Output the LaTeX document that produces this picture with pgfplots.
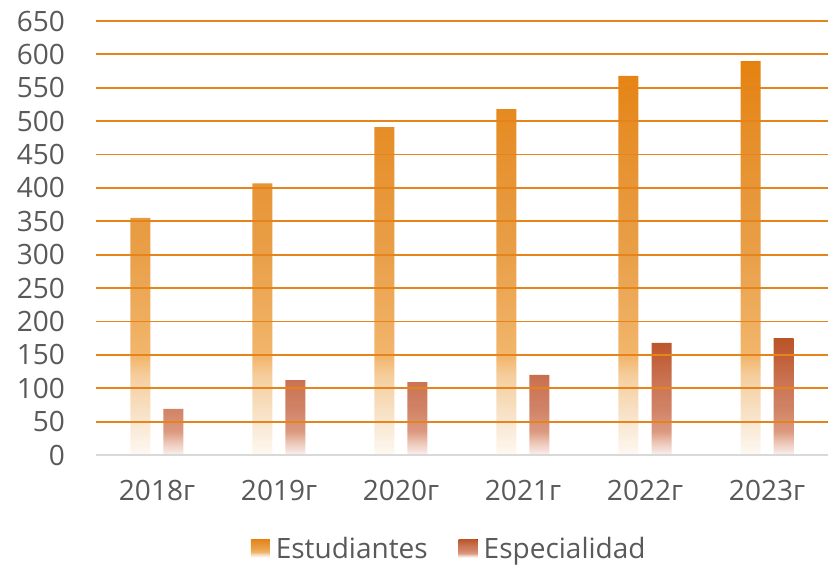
\documentclass[border=0pt]{standalone}
\usepackage{pgfplots}
\pgfplotsset{compat=1.18}
\usepackage{fontspec}
\setmainfont{Open Sans}
\definecolor{txt}{HTML}{595959}
\definecolor{grd}{HTML}{E5841A}
\definecolor{baseln}{HTML}{D9D9D9}
\definecolor{est0}{HTML}{FEF9F3}
\definecolor{estA}{HTML}{F8E3C9}
\definecolor{estB}{HTML}{F5CE9E}
\definecolor{estB2}{HTML}{F2B66C}
\definecolor{estC}{HTML}{E9A04A}
\definecolor{estC2}{HTML}{E68F2A}
\definecolor{estD}{HTML}{E5820F}
\definecolor{esp0}{HTML}{F9F1EE}
\definecolor{espA}{HTML}{EDC9BB}
\definecolor{espB}{HTML}{DC9A80}
\definecolor{espB2}{HTML}{D08266}
\definecolor{espC}{HTML}{CB7656}
\definecolor{espC2}{HTML}{C15F37}
\definecolor{espD}{HTML}{BA5429}
\pgfdeclareverticalshading{estshade}{100bp}{color(0bp)=(est0); color(25bp)=(est0); color(30bp)=(estA); color(35bp)=(estB); color(37.5bp)=(estB2); color(50bp)=(estC); color(65bp)=(estC2); color(75bp)=(estD); color(100bp)=(estD)}
\pgfdeclareverticalshading{espshade}{100bp}{color(0bp)=(esp0); color(25bp)=(esp0); color(30bp)=(espA); color(35bp)=(espB); color(45bp)=(espB2); color(55bp)=(espC); color(67.5bp)=(espC2); color(75bp)=(espD); color(100bp)=(espD)}
\begin{document}
\begin{tikzpicture}
\begin{axis}[
  scale only axis,
  width=732bp, height=434bp,
  xmin=-0.5, xmax=5.5,
  ymin=0, ymax=650,
  ytick={0,50,...,650},
  xtick=data,
  xticklabels={2018г,2019г,2020г,2021г,2022г,2023г},
  ybar=13bp, bar width=20bp,
  axis on top,
  axis line style={draw=none},
  major tick length=0pt,
  ymajorgrids,
  grid style={draw=grd, line width=1.8bp},
  extra y ticks={0},
  extra y tick labels={},
  extra y tick style={grid style={draw=baseln, line width=1.4bp}},
  /pgf/number format/assume math mode=true,
  tick label style={font=\fontsize{28bp}{33bp}\selectfont, text=txt, inner sep=0pt},
  yticklabel style={anchor=east, xshift=-31bp},
  xticklabel style={anchor=north, yshift=-25bp},
  legend columns=2,
  legend style={draw=none, fill=none, font=\fontsize{28bp}{33bp}\selectfont, text=txt,
    at={(0.4825,-0.2166)}, anchor=center,
    /tikz/every even column/.append style={column sep=29bp}},
  legend image code/.code={\fill[#1] (0bp,-8bp) rectangle (19bp,10bp); \path (0bp,0bp) -- (23bp,0bp);},
]
\addplot[draw=none, shade, shading=estshade] coordinates {(0,355) (1,407) (2,491) (3,518) (4,568) (5,590)};
\addplot[draw=none, shade, shading=espshade] coordinates {(0,69) (1,112) (2,109) (3,120) (4,168) (5,175)};
\legend{Estudiantes, Especialidad}
\end{axis}
\path ([xshift=-96bp,yshift=-107bp]current axis.south west) rectangle ([xshift=733bp,yshift=455bp]current axis.south west);
\end{tikzpicture}
\end{document}
